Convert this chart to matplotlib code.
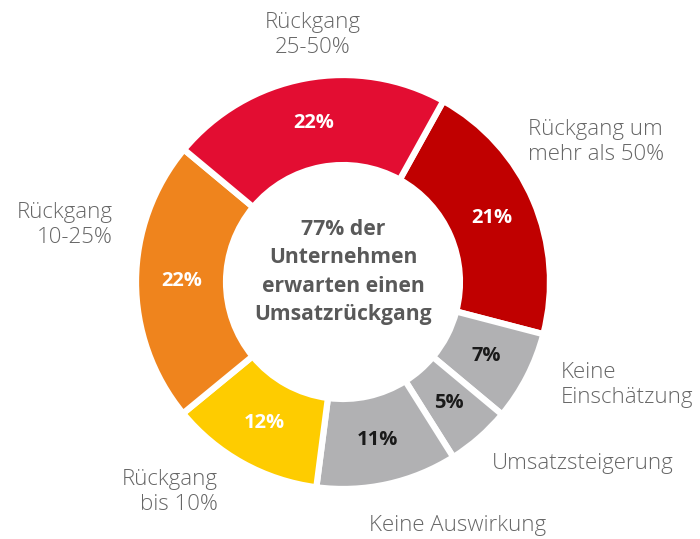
import matplotlib
matplotlib.use('Agg')
import matplotlib.pyplot as plt

# data, clockwise starting at the "mehr als 50%" slice
categories = ['Rückgang um\nmehr als 50%', 'Keine\nEinschätzung', 'Umsatzsteigerung',
              'Keine Auswirkung', 'Rückgang\nbis 10%', 'Rückgang\n10-25%', 'Rückgang\n25-50%']
values = [21, 7, 5, 11, 12, 22, 22]
colors = ['#C00000', '#B1B1B3', '#B1B1B3', '#B1B1B3', '#FECC00', '#EF841D', '#E30D32']
pct_colors = ['white', '#1a1a1a', '#1a1a1a', '#1a1a1a', 'white', 'white', 'white']
center_text = '77% der\nUnternehmen\nerwarten einen\nUmsatzrückgang'

plt.rcParams['font.family'] = ['Open Sans', 'DejaVu Sans']

W, H = 700, 539
fig = plt.figure(figsize=(W / 100, H / 100), dpi=100)
ax = fig.add_axes([0, 0, 1, 1])
ax.set_xlim(0, W)
ax.set_ylim(0, H)
ax.set_aspect('equal')
ax.axis('off')

cx, cy, R = 343, H - 282, 207
wedges, _, autotexts = ax.pie(values, colors=colors, startangle=61, counterclock=False,
                              center=(cx, cy), radius=R, autopct='%d%%', pctdistance=0.78,
                              wedgeprops=dict(width=R * 0.435, edgecolor='white', linewidth=4.5),
                              textprops=dict(fontsize=14.5, fontweight='bold'))
ax.set_xlim(0, W)
ax.set_ylim(0, H)
for t, c in zip(autotexts, pct_colors):
    t.set_color(c)

# outside labels (pixel positions from the top)
lab_pos = [(528, 142, 'left'), (561, 385, 'left'), (492, 463, 'left'),
           (458, 525, 'center'), (218, 492, 'right'), (113, 225, 'right'), (313, 35, 'center')]
for lab, (x, y, ha) in zip(categories, lab_pos):
    ax.text(x, H - y, lab, ha=ha, va='center', fontsize=16, color='#666666',
            linespacing=1.3, fontweight='light')

ax.text(cx, H - 272, center_text, ha='center', va='center', fontsize=15.2,
        fontweight='bold', color='#595959', linespacing=1.45)

fig.savefig('out.png', dpi=100)
